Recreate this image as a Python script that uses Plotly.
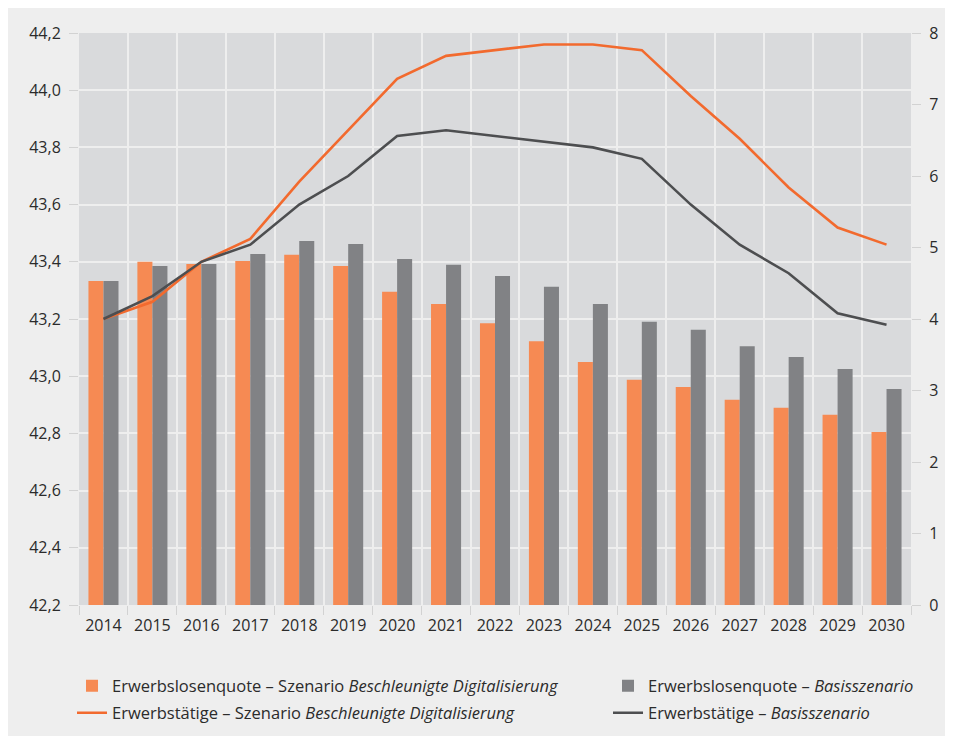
import plotly.graph_objects as go

#-------------------------------------------------------------------------------
# Werte
jahre = [str(j) for j in range(2014, 2031)]

# Erwerbslosenquote in % (rechte Achse)
quote_digital = [4.53, 4.80, 4.77, 4.81, 4.90, 4.74, 4.38, 4.21, 3.94,
                 3.69, 3.40, 3.15, 3.05, 2.87, 2.76, 2.66, 2.42]
quote_basis = [4.53, 4.74, 4.77, 4.91, 5.09, 5.05, 4.84, 4.76, 4.60,
               4.45, 4.21, 3.96, 3.85, 3.62, 3.47, 3.30, 3.02]

# Erwerbstätige in Mio. (linke Achse)
erwerb_digital = [43.20, 43.26, 43.40, 43.48, 43.68, 43.86, 44.04, 44.12, 44.14,
                  44.16, 44.16, 44.14, 43.98, 43.83, 43.66, 43.52, 43.46]
erwerb_basis = [43.20, 43.28, 43.40, 43.46, 43.60, 43.70, 43.84, 43.86, 43.84,
                43.82, 43.80, 43.76, 43.60, 43.46, 43.36, 43.22, 43.18]

links_ticks = [42.2, 42.4, 42.6, 42.8, 43.0, 43.2, 43.4, 43.6, 43.8, 44.0, 44.2]
rechts_ticks = list(range(0, 9))

#-------------------------------------------------------------------------------
orange_bar = '#f68a53'
grau_bar = '#818285'
orange_line = '#f26a2e'
grau_line = '#4d4e50'
schrift = '#2b2b2b'

fig = go.Figure()

# Balken: Zeile 1 der Legende
fig.add_trace(go.Bar(
    x=jahre, y=quote_digital, yaxis='y',
    marker_color=orange_bar, marker_line_width=0, legend='legend',
    legendwidth=491,
    name='Erwerbslosenquote – Szenario <i>Beschleunigte Digitalisierung</i>'))
fig.add_trace(go.Bar(
    x=jahre, y=quote_basis, yaxis='y',
    marker_color=grau_bar, marker_line_width=0, legend='legend',
    legendwidth=270,
    name='Erwerbslosenquote – <i>Basisszenario</i>'))
# Linien: Zeile 2 der Legende
fig.add_trace(go.Scatter(
    x=jahre, y=erwerb_digital, yaxis='y2', mode='lines',
    line=dict(color=orange_line, width=2.6), legend='legend2',
    legendwidth=491,
    name='Erwerbstätige – Szenario <i>Beschleunigte Digitalisierung</i>'))
fig.add_trace(go.Scatter(
    x=jahre, y=erwerb_basis, yaxis='y2', mode='lines',
    line=dict(color=grau_line, width=2.6), legend='legend2',
    legendwidth=270,
    name='Erwerbstätige – <i>Basisszenario</i>'))

#-------------------------------------------------------------------------------
leg = dict(orientation='h', x=-0.0084, xanchor='left', yanchor='middle',
           font=dict(family='Open Sans', size=16.5, color=schrift),
           bgcolor='rgba(0,0,0,0)', traceorder='normal')

fig.update_layout(
    width=945, height=728,
    margin=dict(l=71, r=42, t=25, b=131, autoexpand=False),
    paper_bgcolor='#eeeeee',
    plot_bgcolor='#d9dadc',
    separators=',.',
    font=dict(family='Open Sans', size=15, color=schrift),
    barmode='group', bargap=0.386, bargroupgap=0,
    showlegend=True,
    legend=dict(leg, y=-0.1416),
    legend2=dict(leg, y=-0.1888),
    xaxis=dict(
        type='category', tickson='boundaries', ticks='outside', ticklen=9,
        tickcolor='#d2d2d2', showgrid=True, gridcolor='#eeeeee', gridwidth=1.5,
        showline=False, tickfont=dict(size=16), ticklabelstandoff=9),
    yaxis=dict(
        side='right', range=[0, 8], tickvals=rechts_ticks,
        ticks='outside', ticklen=9, tickcolor='#d2d2d2',
        showgrid=False, zeroline=False, showline=False,
        tickfont=dict(size=16), ticklabelstandoff=5),
    yaxis2=dict(
        side='left', overlaying='y', range=[42.2, 44.2], tickvals=links_ticks,
        tickformat='.1f', ticks='outside', ticklen=9, tickcolor='#d2d2d2',
        showgrid=True, gridcolor='#eeeeee', gridwidth=1.5,
        zeroline=False, showline=False, tickfont=dict(size=16),
        ticklabelstandoff=5),
)

fig.write_html("out.html")
